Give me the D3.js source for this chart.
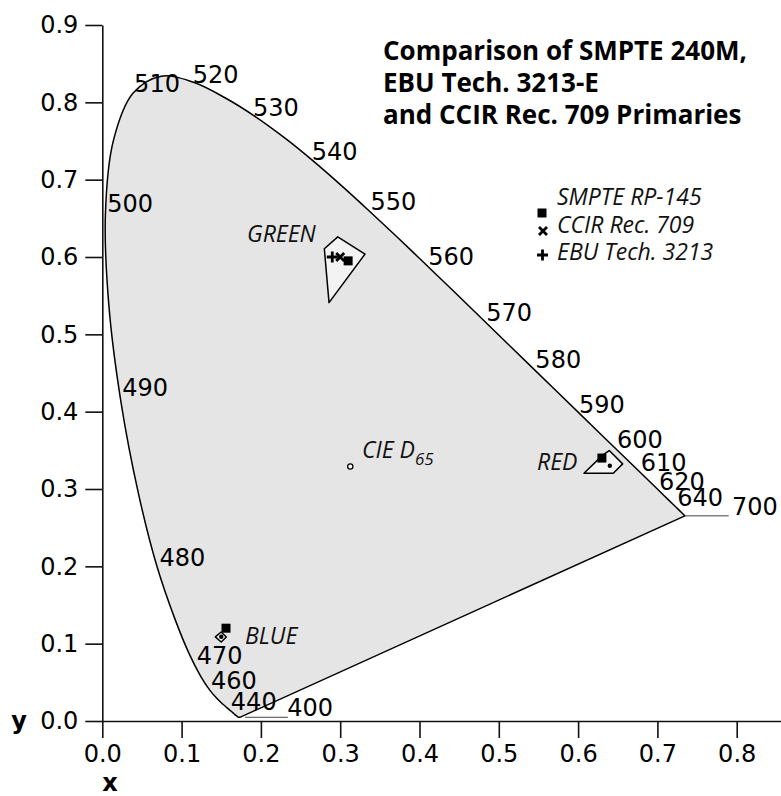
<!DOCTYPE html>
<html>
<head>
<meta charset="utf-8">
<script src="https://cdn.jsdelivr.net/npm/d3@7"></script>
<style>
  body { margin: 0; background: #fff; }
  svg { display: block; }
  .tick text { font-family: "DejaVu Sans", sans-serif; font-size: 24px; fill: #000; }
  .wl { font-family: "DejaVu Sans", sans-serif; font-size: 24px; fill: #000; }
  .it { font-family: "Open Sans", sans-serif; font-style: italic; font-size: 23px; fill: #111; }
  .title { font-family: "Open Sans", sans-serif; font-weight: bold; font-size: 26px; fill: #000; }
</style>
</head>
<body>
<script>
var W = 781, H = 796;
var margin = {left: 102.3, top: 25, bottom: 75};

/* spectral locus, CIE 1931 2deg, 380..700 nm step 5 */
var locusNm = [380,385,390,395,400,405,410,415,420,425,430,435,440,445,450,455,460,465,470,475,
  480,485,490,495,500,505,510,515,520,525,530,535,540,545,550,555,560,565,570,575,
  580,585,590,595,600,605,610,615,620,625,630,635,640,645,650,655,660,665,670,675,
  680,685,690,695,700];
var locusX = [0.1741,0.1740,0.1738,0.1736,0.1733,0.1730,0.1726,0.1721,0.1714,0.1703,0.1689,0.1669,0.1644,0.1611,0.1566,0.1510,0.1440,0.1355,0.1241,0.1096,
  0.0913,0.0687,0.0454,0.0235,0.0082,0.0039,0.0139,0.0389,0.0743,0.1142,0.1547,0.1929,0.2296,0.2658,0.3016,0.3373,0.3731,0.4087,0.4441,0.4788,
  0.5125,0.5448,0.5752,0.6029,0.6270,0.6482,0.6658,0.6801,0.6915,0.7006,0.7079,0.7140,0.7190,0.7230,0.7260,0.7283,0.7300,0.7311,0.7320,0.7327,
  0.7334,0.7340,0.7344,0.7346,0.7347];
var locusY = [0.0050,0.0050,0.0049,0.0049,0.0048,0.0048,0.0048,0.0048,0.0051,0.0058,0.0069,0.0086,0.0109,0.0138,0.0177,0.0227,0.0297,0.0399,0.0578,0.0868,
  0.1327,0.2007,0.2950,0.4127,0.5384,0.6548,0.7502,0.8120,0.8338,0.8262,0.8059,0.7816,0.7543,0.7243,0.6923,0.6589,0.6245,0.5896,0.5547,0.5202,
  0.4866,0.4544,0.4242,0.3965,0.3725,0.3514,0.3340,0.3197,0.3083,0.2993,0.2920,0.2859,0.2809,0.2770,0.2740,0.2717,0.2700,0.2689,0.2680,0.2673,
  0.2666,0.2660,0.2656,0.2654,0.2653];

/* wavelength labels, placed in chromaticity units (label centre) */
var labelNm = ["400","440","460","470","480","490","500","510","520","530","540","550","560","570","580","590","600","610","620","640","700"];
var labelX  = [0.262,0.191,0.166,0.148,0.101,0.054,0.035,0.069,0.143,0.219,0.293,0.367,0.440,0.513,0.575,0.630,0.678,0.708,0.731,0.754,0.823];
var labelY  = [0.018,0.026,0.052,0.085,0.212,0.431,0.670,0.824,0.836,0.793,0.736,0.672,0.601,0.528,0.467,0.410,0.364,0.334,0.310,0.289,0.277];

/* leader lines [x1, y1, x2, y2] */
var leaders = [[0.7347,0.2653,0.790,0.2653],[0.180,0.0048,0.234,0.0048]];

/* tolerance regions round each primary */
var regionGreen = [[0.2969,0.6261],[0.3313,0.6038],[0.2859,0.5410],[0.2800,0.6106]];
var regionRed   = [[0.6074,0.3204],[0.6314,0.3441],[0.6393,0.3497],[0.6562,0.3325],[0.6444,0.3204]];
var regionBlue  = [[0.1425,0.1087],[0.1499,0.1151],[0.1564,0.1087],[0.1499,0.1022]];

/* primaries, order: red, green, blue */
var smpte = [[0.630,0.340],[0.310,0.595],[0.156,0.120]];
var ccir  = [[0.640,0.330],[0.300,0.600],[0.150,0.109]];
var ebu   = [[0.640,0.330],[0.290,0.600],[0.150,0.109]];
var d65 = [0.3127,0.3290];

var xTicks = [0,0.1,0.2,0.3,0.4,0.5,0.6,0.7,0.8];
var yTicks = [0,0.1,0.2,0.3,0.4,0.5,0.6,0.7,0.8,0.9];
var legendNames = ["SMPTE RP-145","CCIR Rec. 709","EBU Tech. 3213"];
var titleLines = ["Comparison of SMPTE 240M,","EBU Tech. 3213-E","and CCIR Rec. 709 Primaries"];

var x = d3.scaleLinear().domain([0, 0.86]).range([margin.left, margin.left + 0.86 * 793]);
var y = d3.scaleLinear().domain([0, 0.9]).range([H - margin.bottom, margin.top]);

var svg = d3.select("body").append("svg").attr("width", W).attr("height", H);

/* locus: smooth curve, closed by the straight purple line */
var pts = locusNm.map(function(d, i) { return [locusX[i], locusY[i]]; });
var line = d3.line().x(function(d) { return x(d[0]); }).y(function(d) { return y(d[1]); });
var curve = d3.line().curve(d3.curveCatmullRom.alpha(0.5))
  .x(function(d) { return x(d[0]); }).y(function(d) { return y(d[1]); });
svg.append("path")
  .attr("d", curve(pts) + "Z")
  .attr("fill", "#e5e5e5")
  .attr("stroke", "#000")
  .attr("stroke-width", 1.5)
  .attr("stroke-linejoin", "round");

svg.selectAll(".leader").data(leaders).enter().append("line")
  .attr("x1", d => x(d[0])).attr("y1", d => y(d[1]))
  .attr("x2", d => x(d[2])).attr("y2", d => y(d[3]))
  .attr("stroke", "#444").attr("stroke-width", 1);

svg.selectAll(".wl").data(labelNm).enter().append("text")
  .attr("class", "wl")
  .attr("x", (d, i) => x(labelX[i]))
  .attr("y", (d, i) => y(labelY[i]))
  .attr("dy", "0.36em")
  .attr("text-anchor", "middle")
  .text(d => d);

/* regions */
[regionGreen, regionRed, regionBlue].forEach(function(r) {
  svg.append("path")
    .attr("d", line(r) + "Z")
    .attr("fill", "#f3f3f3")
    .attr("stroke", "#000")
    .attr("stroke-width", 1.5)
    .attr("stroke-linejoin", "round");
});

/* markers */
function square(g, cx, cy, s) {
  g.append("rect").attr("x", cx - s / 2).attr("y", cy - s / 2)
    .attr("width", s).attr("height", s).attr("fill", "#000");
}
function cross(g, cx, cy, s) {
  g.append("path")
    .attr("d", "M" + (cx - s) + "," + (cy - s) + "L" + (cx + s) + "," + (cy + s) +
               "M" + (cx - s) + "," + (cy + s) + "L" + (cx + s) + "," + (cy - s))
    .attr("stroke", "#000").attr("stroke-width", 2.8);
}
function plus(g, cx, cy, s) {
  g.append("path")
    .attr("d", "M" + (cx - s) + "," + cy + "L" + (cx + s) + "," + cy +
               "M" + cx + "," + (cy - s) + "L" + cx + "," + (cy + s))
    .attr("stroke", "#000").attr("stroke-width", 2.8);
}
function dot(g, cx, cy, r) {
  g.append("circle").attr("cx", cx).attr("cy", cy).attr("r", r).attr("fill", "#000");
}

var mk = svg.append("g");
// green: all three are distinct
plus(mk, x(ebu[1][0]), y(ebu[1][1]), 5.5);
cross(mk, x(ccir[1][0]), y(ccir[1][1]), 4);
square(mk, x(smpte[1][0]), y(smpte[1][1]), 9);
// red
square(mk, x(smpte[0][0]), y(smpte[0][1]), 9);
dot(mk, x(ccir[0][0]), y(ccir[0][1]), 2.2);
// blue
square(mk, x(smpte[2][0]), y(smpte[2][1]), 9);
dot(mk, x(ccir[2][0]), y(ccir[2][1]), 2.2);

/* white point */
svg.append("circle")
  .attr("cx", x(d65[0])).attr("cy", y(d65[1])).attr("r", 2.6)
  .attr("fill", "#fff").attr("stroke", "#000").attr("stroke-width", 1.3);

/* italic labels */
svg.append("text").attr("class", "it").attr("x", 247).attr("y", y(0.620)).text("GREEN");
svg.append("text").attr("class", "it").attr("x", 537).attr("y", y(0.325)).text("RED");
svg.append("text").attr("class", "it").attr("x", 245).attr("y", y(0.100)).text("BLUE");
var dl = svg.append("text").attr("class", "it").attr("x", 362).attr("y", y(0.340));
dl.append("tspan").text("CIE D");
dl.append("tspan").attr("dy", 7).style("font-size", "17px").text("65");

/* axes */
var yAxis = d3.axisLeft(y).tickValues(yTicks).tickFormat(d3.format(".1f"))
  .tickSize(17).tickPadding(7).tickSizeOuter(0);
var xAxis = d3.axisBottom(x).tickValues(xTicks).tickFormat(d3.format(".1f"))
  .tickSize(17).tickPadding(7).tickSizeOuter(0);

var gy = svg.append("g").attr("transform", "translate(" + margin.left + ",0)").call(yAxis);
var gx = svg.append("g").attr("transform", "translate(0," + y(0) + ")").call(xAxis);
[gx, gy].forEach(function(g) {
  g.selectAll("path, line").attr("stroke", "#111").attr("stroke-width", 1.6);
});

svg.append("text")
  .attr("x", 19).attr("y", y(0) + 8)
  .attr("text-anchor", "middle")
  .style("font-family", "DejaVu Sans, sans-serif").style("font-weight", "bold").style("font-size", "24px")
  .text("y");
svg.append("text")
  .attr("x", 110).attr("y", 791)
  .attr("text-anchor", "middle")
  .style("font-family", "DejaVu Sans, sans-serif").style("font-weight", "bold").style("font-size", "24px")
  .text("x");

/* title */
svg.append("g").selectAll("text").data(titleLines).enter().append("text")
  .attr("class", "title")
  .attr("x", 383)
  .attr("y", (d, i) => 60 + i * 32)
  .text(d => d);

/* legend */
var lg = svg.append("g");
var lgX = 542, lgY = 205, lgStep = 27.5;
legendNames.forEach(function(name, i) {
  lg.append("text").attr("class", "it").attr("x", lgX + 15).attr("y", lgY + i * lgStep).text(name);
});
square(lg, lgX, lgY + 8, 9);
cross(lg, lgX + 1, lgY + lgStep - 1.5, 4);
plus(lg, lgX + 0.5, lgY + 2 * lgStep - 5, 5.5);
</script>
</body>
</html>
